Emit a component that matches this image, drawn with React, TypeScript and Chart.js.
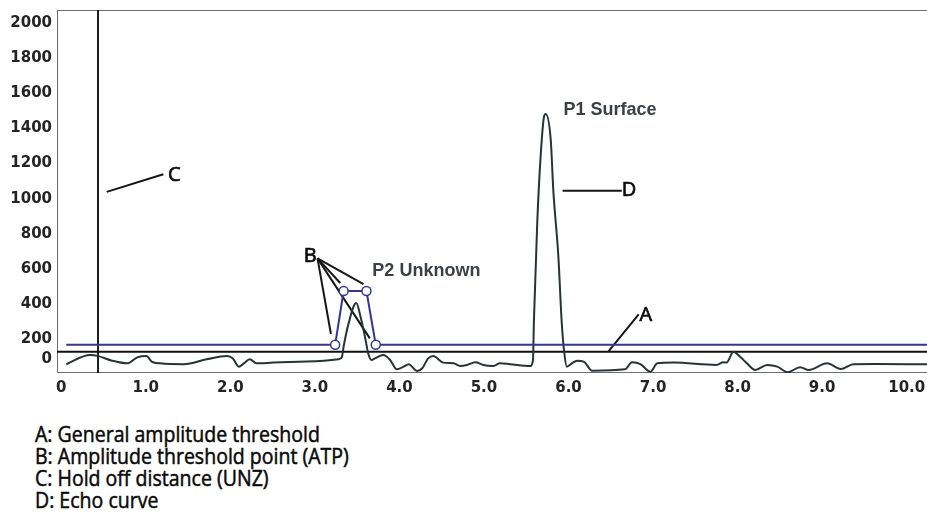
import React, { useEffect, useRef } from "react";
import { Chart, registerables } from "chart.js";
Chart.register(...registerables);

// ---- data ----
const echoX = [0.06, 0.34, 0.44, 0.6, 0.78, 0.9, 1.01, 1.07, 1.17, 1.45, 1.72, 1.96, 2.03, 2.1, 2.16, 2.23, 2.31, 2.51, 2.9, 3.28, 3.32, 3.34, 3.4, 3.49, 3.54, 3.6, 3.63, 3.67, 3.71, 3.81, 3.89, 3.97, 4.05, 4.11, 4.21, 4.27, 4.34, 4.4, 4.52, 4.64, 4.72, 4.8, 4.9, 4.99, 5.11, 5.19, 5.31, 5.55, 5.58, 5.59, 5.63, 5.67, 5.71, 5.73, 5.79, 5.82, 5.88, 5.92, 5.95, 5.98, 6.04, 6.1, 6.18, 6.28, 6.67, 6.75, 6.85, 6.97, 7.05, 7.24, 7.75, 7.83, 7.87, 7.95, 8.03, 8.11, 8.21, 8.35, 8.47, 8.59, 8.74, 8.84, 9.06, 9.22, 9.37, 9.61, 10.24];
const echoY = [59, 111, 105, 79, 64, 98, 105, 74, 64, 59, 87, 105, 92, 45, 64, 87, 64, 68, 74, 87, 101, 159, 294, 407, 329, 197, 121, 83, 92, 111, 83, 30, 45, 59, 20, 36, 92, 105, 68, 64, 49, 55, 70, 55, 49, 64, 59, 49, 83, 294, 862, 1239, 1466, 1482, 1334, 1049, 671, 294, 123, 45, 64, 79, 74, 22, 30, 70, 60, 16, 64, 68, 55, 70, 68, 130, 101, 64, 26, 55, 45, 13, 42, 26, 64, 32, 59, 60, 59];

const thresholdX = [0.06, 3.24, 3.34, 3.61, 3.72, 10.24];
const thresholdY = [170, 170, 475, 475, 170, 170];
const atpFlags = [0, 1, 1, 1, 1, 0];

const zeroLineY = 130;
const holdOffX = 0.435;

const xTicks = [0, 1, 2, 3, 4, 5, 6, 7, 8, 9, 10];
const xTickLabels = ["0", "1.0", "2.0", "3.0", "4.0", "5.0", "6.0", "7.0", "8.0", "9.0", "10.0"];
const yTicks = [89, 200, 400, 600, 800, 1000, 1200, 1400, 1600, 1800, 2000];
const yTickLabels = ["0", "200", "400", "600", "800", "1000", "1200", "1400", "1600", "1800", "2000"];

const X_MIN = -0.05;
const X_MAX = 10.24;
const Y_MIN = 9;
const Y_MAX = 2073;

// leader lines [x1, y1, x2, y2] in data units
const leaderLines = [
  [0.538, 1039, 1.208, 1139],
  [3.031, 661, 3.19, 231],
  [3.031, 661, 3.3, 521],
  [3.031, 661, 3.65, 206],
  [3.031, 661, 3.575, 515],
  [5.93, 1045, 6.63, 1045],
  [6.475, 134, 6.83, 343],
];

const callouts = [
  { text: "C", x: 1.264, y: 1134, align: "left" },
  { text: "B", x: 2.945, y: 674, align: "center" },
  { text: "D", x: 6.63, y: 1045, align: "left" },
  { text: "A", x: 6.84, y: 339, align: "left" },
];

const peakLabels = [
  { text: "P1 Surface", x: 5.94, y: 1504 },
  { text: "P2 Unknown", x: 3.68, y: 589 },
];

const legendLines = [
  "A: General amplitude threshold",
  "B: Amplitude threshold point (ATP)",
  "C: Hold off distance (UNZ)",
  "D: Echo curve",
];

const overlayPlugin = {
  id: "overlay",
  beforeDatasetsDraw(chart: any) {
    const { ctx, chartArea: a } = chart;
    ctx.save();
    ctx.strokeStyle = "#6e6e6e";
    ctx.lineWidth = 1;
    ctx.strokeRect(a.left + 0.5, a.top + 0.5, a.right - a.left, a.bottom - a.top - 1);
    ctx.restore();
  },
  afterDatasetsDraw(chart: any) {
    const { ctx } = chart;
    const xs = chart.scales.x;
    const ys = chart.scales.y;
    ctx.save();
    ctx.fillStyle = "#0d0d0d";
    ctx.strokeStyle = "#0d0d0d";
    ctx.lineWidth = 0.7;
    ctx.font = '20px "Open Sans"';
    ctx.textBaseline = "middle";
    callouts.forEach((c) => {
      ctx.textAlign = c.align as CanvasTextAlign;
      const px = xs.getPixelForValue(c.x);
      const py = ys.getPixelForValue(c.y);
      ctx.fillText(c.text, px, py);
      ctx.strokeText(c.text, px, py);
    });
    ctx.fillStyle = "#3b4045";
    ctx.font = 'bold 18px "Liberation Sans"';
    ctx.textAlign = "left";
    peakLabels.forEach((p) => {
      ctx.fillText(p.text, xs.getPixelForValue(p.x), ys.getPixelForValue(p.y));
    });
    ctx.restore();
  },
};

export default function App() {
  const ref = useRef<HTMLCanvasElement | null>(null);
  useEffect(() => {
    if (!ref.current) return;
    const datasets: any[] = [];
    datasets.push({
      data: thresholdX.map((x, i) => ({ x, y: thresholdY[i] })),
      borderColor: "#34369c",
      borderWidth: 2,
      pointRadius: (c: any) => (atpFlags[c.dataIndex] ? 4.5 : 0),
      pointBackgroundColor: "#ffffff",
      pointBorderColor: "#34369c",
      pointBorderWidth: 1.5,
      tension: 0,
    });
    datasets.push({
      data: echoX.map((x, i) => ({ x, y: echoY[i] })),
      borderColor: "#283336",
      borderWidth: 2,
      pointRadius: 0,
      cubicInterpolationMode: "monotone",
    });
    datasets.push({
      data: [
        { x: X_MIN, y: zeroLineY },
        { x: X_MAX, y: zeroLineY },
      ],
      borderColor: "#111111",
      borderWidth: 2,
      pointRadius: 0,
    });
    datasets.push({
      data: [
        { x: holdOffX, y: Y_MIN },
        { x: holdOffX, y: Y_MAX },
      ],
      borderColor: "#1e1e1e",
      borderWidth: 2,
      pointRadius: 0,
    });
    leaderLines.forEach((l) => {
      datasets.push({
        data: [
          { x: l[0], y: l[1] },
          { x: l[2], y: l[3] },
        ],
        borderColor: "#161616",
        borderWidth: 2,
        pointRadius: 0,
      });
    });

    const chart = new Chart(ref.current, {
      type: "line",
      data: { datasets },
      options: {
        animation: false,
        responsive: false,
        devicePixelRatio: 1,
        layout: { padding: { top: 10, right: 0, left: 0, bottom: 0 } },
        plugins: { legend: { display: false }, tooltip: { enabled: false } },
        scales: {
          x: {
            type: "linear",
            min: X_MIN,
            max: X_MAX,
            grid: { display: false, drawTicks: false },
            border: { display: false },
            afterBuildTicks: (s: any) => {
              s.ticks = xTicks.map((v) => ({ value: v }));
            },
            afterFit: (s: any) => {
              s.height = 27;
              s.paddingLeft = 0;
              s.paddingRight = 0;
            },
            ticks: {
              padding: 6,
              autoSkip: false,
              maxRotation: 0,
              color: "#242424",
              font: { family: "DejaVu Sans", weight: "bold", size: 15 },
              callback: (_v: any, i: number) => xTickLabels[i],
            },
          },
          y: {
            type: "linear",
            min: Y_MIN,
            max: Y_MAX,
            grid: { display: false, drawTicks: false },
            border: { display: false },
            afterBuildTicks: (s: any) => {
              s.ticks = yTicks.map((v) => ({ value: v }));
            },
            afterFit: (s: any) => {
              s.width = 57;
              s.paddingTop = 0;
              s.paddingBottom = 0;
            },
            ticks: {
              padding: 5,
              autoSkip: false,
              color: "#242424",
              font: { family: "DejaVu Sans", weight: "bold", size: 15 },
              callback: (_v: any, i: number) => yTickLabels[i],
            },
          },
        },
      },
      plugins: [overlayPlugin],
    } as any);
    return () => chart.destroy();
  }, []);

  return (
    <div style={{ position: "absolute", left: 0, top: 0, width: 927, height: 523, background: "#fff" }}>
      <canvas ref={ref} width={927} height={400} style={{ display: "block", width: 927, height: 400 }} />
      <div
        style={{
          position: "absolute",
          left: 35,
          top: 423,
          fontFamily: '"Open Sans", sans-serif',
          fontSize: 21,
          lineHeight: "22px",
          color: "#0a0a0a",
          whiteSpace: "nowrap",
          transformOrigin: "left top",
          transform: "scaleX(0.93)",
          WebkitTextStroke: "0.5px #0a0a0a",
        }}
      >
        {legendLines.map((t) => (
          <div key={t}>{t}</div>
        ))}
      </div>
    </div>
  );
}
